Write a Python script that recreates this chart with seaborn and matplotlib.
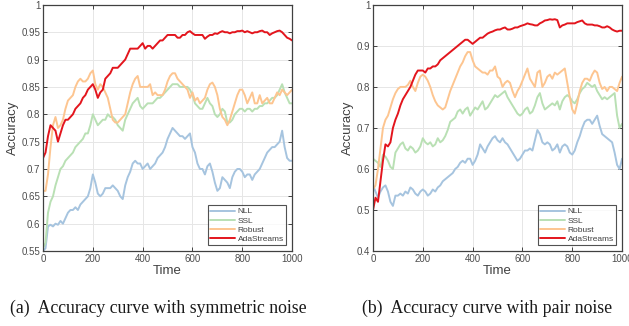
import numpy as np
import pandas as pd
import matplotlib
matplotlib.use('Agg')
import matplotlib.pyplot as plt
import seaborn as sns

# time grid (every 10 steps)
time_steps = list(range(0, 1001, 10))
methods = ['NLL', 'SSL', 'Robust', 'AdaStreams']

# (a) symmetric noise
sym_ada = [0.72, 0.73, 0.76, 0.78, 0.775, 0.77, 0.75, 0.765, 0.78, 0.79,
           0.79, 0.795, 0.80, 0.81, 0.815, 0.82, 0.83, 0.835, 0.845, 0.85,
           0.855, 0.845, 0.83, 0.84, 0.845, 0.865, 0.87, 0.875, 0.885, 0.885,
           0.885, 0.89, 0.895, 0.90, 0.91, 0.92, 0.92, 0.92, 0.92, 0.925,
           0.93, 0.92, 0.925, 0.925, 0.92, 0.925, 0.93, 0.935, 0.935, 0.94,
           0.945, 0.945, 0.945, 0.945, 0.94, 0.94, 0.945, 0.945, 0.95, 0.952,
           0.948, 0.945, 0.945, 0.945, 0.945, 0.938, 0.942, 0.945, 0.945, 0.948,
           0.947, 0.95, 0.952, 0.95, 0.95, 0.948, 0.95, 0.95, 0.952, 0.952,
           0.953, 0.95, 0.952, 0.95, 0.948, 0.95, 0.95, 0.952, 0.953, 0.95,
           0.95, 0.945, 0.948, 0.95, 0.952, 0.953, 0.95, 0.945, 0.94, 0.938,
           0.935]
sym_robust = [0.66, 0.66, 0.69, 0.74, 0.78, 0.795, 0.775, 0.78, 0.79, 0.81,
              0.825, 0.83, 0.835, 0.85, 0.86, 0.865, 0.86, 0.86, 0.865, 0.875,
              0.88, 0.855, 0.845, 0.855, 0.85, 0.84, 0.83, 0.81, 0.79, 0.785,
              0.785, 0.79, 0.795, 0.80, 0.82, 0.84, 0.855, 0.865, 0.87, 0.85,
              0.85, 0.85, 0.85, 0.855, 0.835, 0.84, 0.835, 0.835, 0.835, 0.845,
              0.86, 0.87, 0.875, 0.875, 0.865, 0.86, 0.855, 0.85, 0.845, 0.83,
              0.84, 0.825, 0.83, 0.82, 0.825, 0.83, 0.845, 0.855, 0.858, 0.85,
              0.835, 0.81, 0.795, 0.79, 0.78, 0.79, 0.805, 0.82, 0.835, 0.845,
              0.845, 0.835, 0.82, 0.83, 0.84, 0.82, 0.82, 0.835, 0.82, 0.825,
              0.83, 0.82, 0.82, 0.83, 0.84, 0.835, 0.845, 0.84, 0.835, 0.84,
              0.845]
sym_ssl = [0.555, 0.565, 0.62, 0.64, 0.65, 0.67, 0.685, 0.70, 0.705, 0.715,
           0.72, 0.725, 0.73, 0.74, 0.745, 0.75, 0.755, 0.765, 0.765, 0.78,
           0.80, 0.79, 0.78, 0.785, 0.79, 0.79, 0.80, 0.795, 0.795, 0.79,
           0.78, 0.775, 0.77, 0.79, 0.80, 0.81, 0.82, 0.825, 0.83, 0.815,
           0.81, 0.815, 0.82, 0.82, 0.82, 0.825, 0.83, 0.83, 0.835, 0.84,
           0.845, 0.85, 0.855, 0.855, 0.855, 0.85, 0.85, 0.85, 0.85, 0.845,
           0.835, 0.82, 0.815, 0.81, 0.81, 0.82, 0.83, 0.82, 0.815, 0.80,
           0.795, 0.80, 0.81, 0.805, 0.785, 0.785, 0.79, 0.80, 0.805, 0.81,
           0.81, 0.805, 0.81, 0.81, 0.805, 0.81, 0.81, 0.815, 0.815, 0.82,
           0.82, 0.825, 0.83, 0.83, 0.835, 0.845, 0.855, 0.84, 0.83, 0.82,
           0.82]
sym_nll = [0.55, 0.555, 0.595, 0.598, 0.595, 0.60, 0.598, 0.605, 0.60, 0.61,
           0.62, 0.625, 0.625, 0.63, 0.625, 0.635, 0.64, 0.645, 0.65, 0.665,
           0.69, 0.675, 0.655, 0.65, 0.655, 0.665, 0.665, 0.665, 0.67, 0.665,
           0.66, 0.65, 0.645, 0.67, 0.685, 0.695, 0.71, 0.715, 0.71, 0.71,
           0.70, 0.705, 0.71, 0.70, 0.705, 0.71, 0.72, 0.725, 0.73, 0.74,
           0.755, 0.765, 0.775, 0.77, 0.765, 0.76, 0.76, 0.755, 0.76, 0.765,
           0.74, 0.73, 0.71, 0.70, 0.70, 0.69, 0.705, 0.71, 0.695, 0.675,
           0.66, 0.665, 0.685, 0.68, 0.675, 0.665, 0.685, 0.695, 0.70, 0.70,
           0.695, 0.685, 0.69, 0.69, 0.68, 0.69, 0.695, 0.70, 0.71, 0.72,
           0.73, 0.735, 0.74, 0.74, 0.745, 0.75, 0.77, 0.74, 0.72, 0.715,
           0.715]

# (b) pair noise
pair_ada = [0.50, 0.53, 0.52, 0.57, 0.62, 0.66, 0.655, 0.665, 0.70, 0.72,
            0.735, 0.755, 0.77, 0.78, 0.79, 0.80, 0.815, 0.83, 0.84, 0.84,
            0.84, 0.835, 0.845, 0.845, 0.85, 0.85, 0.855, 0.865, 0.87, 0.875,
            0.88, 0.885, 0.89, 0.895, 0.90, 0.905, 0.91, 0.915, 0.915, 0.91,
            0.905, 0.91, 0.915, 0.92, 0.92, 0.925, 0.93, 0.933, 0.935, 0.938,
            0.94, 0.94, 0.943, 0.945, 0.94, 0.94, 0.942, 0.945, 0.945, 0.948,
            0.95, 0.952, 0.955, 0.953, 0.952, 0.95, 0.95, 0.955, 0.958, 0.962,
            0.963, 0.965, 0.964, 0.965, 0.963, 0.945, 0.95, 0.952, 0.955, 0.955,
            0.955, 0.955, 0.958, 0.96, 0.962, 0.955, 0.952, 0.952, 0.952, 0.95,
            0.95, 0.948, 0.945, 0.945, 0.948, 0.945, 0.94, 0.937, 0.935, 0.937,
            0.937]
pair_robust = [0.55, 0.56, 0.60, 0.65, 0.70, 0.72, 0.73, 0.75, 0.77, 0.785,
               0.795, 0.80, 0.80, 0.80, 0.805, 0.815, 0.80, 0.79, 0.81, 0.825,
               0.83, 0.825, 0.815, 0.80, 0.78, 0.765, 0.755, 0.75, 0.745, 0.75,
               0.77, 0.79, 0.805, 0.82, 0.835, 0.85, 0.86, 0.875, 0.885, 0.885,
               0.865, 0.85, 0.845, 0.84, 0.835, 0.835, 0.83, 0.84, 0.84, 0.85,
               0.825, 0.82, 0.80, 0.81, 0.815, 0.81, 0.79, 0.775, 0.79, 0.80,
               0.815, 0.83, 0.845, 0.82, 0.81, 0.80, 0.835, 0.84, 0.80, 0.81,
               0.825, 0.83, 0.82, 0.835, 0.83, 0.835, 0.84, 0.845, 0.81, 0.775,
               0.745, 0.735, 0.76, 0.79, 0.81, 0.82, 0.82, 0.815, 0.83, 0.84,
               0.835, 0.81, 0.795, 0.80, 0.79, 0.80, 0.80, 0.795, 0.79, 0.81,
               0.825]
pair_ssl = [0.625, 0.62, 0.615, 0.605, 0.635, 0.63, 0.62, 0.605, 0.60, 0.64,
            0.65, 0.66, 0.665, 0.65, 0.645, 0.655, 0.65, 0.64, 0.645, 0.655,
            0.675, 0.665, 0.66, 0.665, 0.655, 0.66, 0.675, 0.665, 0.67, 0.68,
            0.695, 0.715, 0.72, 0.725, 0.74, 0.745, 0.735, 0.745, 0.75, 0.73,
            0.74, 0.75, 0.745, 0.755, 0.765, 0.745, 0.75, 0.76, 0.77, 0.78,
            0.775, 0.78, 0.785, 0.79, 0.775, 0.765, 0.755, 0.745, 0.735, 0.73,
            0.735, 0.745, 0.75, 0.735, 0.74, 0.755, 0.775, 0.785, 0.76, 0.745,
            0.75, 0.755, 0.76, 0.755, 0.765, 0.745, 0.765, 0.775, 0.78, 0.775,
            0.765, 0.76, 0.77, 0.785, 0.795, 0.80, 0.81, 0.805, 0.80, 0.805,
            0.79, 0.78, 0.77, 0.775, 0.77, 0.775, 0.78, 0.785, 0.73, 0.70,
            0.71]
pair_nll = [0.56, 0.545, 0.53, 0.545, 0.555, 0.56, 0.545, 0.52, 0.51, 0.535,
            0.535, 0.54, 0.535, 0.545, 0.54, 0.555, 0.55, 0.54, 0.535, 0.545,
            0.55, 0.545, 0.535, 0.54, 0.55, 0.545, 0.555, 0.56, 0.57, 0.575,
            0.58, 0.585, 0.59, 0.60, 0.605, 0.615, 0.62, 0.615, 0.625, 0.625,
            0.61, 0.62, 0.635, 0.66, 0.65, 0.64, 0.655, 0.665, 0.675, 0.68,
            0.67, 0.665, 0.675, 0.665, 0.66, 0.65, 0.64, 0.63, 0.62, 0.625,
            0.635, 0.645, 0.645, 0.65, 0.645, 0.67, 0.695, 0.685, 0.665, 0.66,
            0.665, 0.66, 0.645, 0.65, 0.66, 0.64, 0.655, 0.66, 0.655, 0.64,
            0.635, 0.645, 0.665, 0.68, 0.70, 0.715, 0.72, 0.72, 0.71, 0.72,
            0.73, 0.705, 0.685, 0.68, 0.675, 0.67, 0.665, 0.64, 0.61, 0.60,
            0.625]

palette = {'NLL': '#a6c4df', 'SSL': '#b9e0b4', 'Robust': '#fdc590', 'AdaStreams': '#e3151d'}


def make_frame(nll, ssl, robust, ada):
    parts = []
    for name, vals in zip(methods, [nll, ssl, robust, ada]):
        parts.append(pd.DataFrame({'Time': time_steps, 'Accuracy': vals, 'method': name}))
    return pd.concat(parts, ignore_index=True)


sns.set_style('white')
plt.rcParams['font.family'] = ['Liberation Sans', 'DejaVu Sans']

fig = plt.figure(figsize=(6.29, 3.26), dpi=100)
ax1 = fig.add_axes([0.0684, 0.230, 0.396, 0.755])
ax2 = fig.add_axes([0.593, 0.230, 0.396, 0.755])

panels = [
    (ax1, make_frame(sym_nll, sym_ssl, sym_robust, sym_ada), (0.55, 1.0),
     [0.55, 0.6, 0.65, 0.7, 0.75, 0.8, 0.85, 0.9, 0.95, 1.0],
     ['0.55', '0.6', '0.65', '0.7', '0.75', '0.8', '0.85', '0.9', '0.95', '1']),
    (ax2, make_frame(pair_nll, pair_ssl, pair_robust, pair_ada), (0.4, 1.0),
     [0.4, 0.5, 0.6, 0.7, 0.8, 0.9, 1.0],
     ['0.4', '0.5', '0.6', '0.7', '0.8', '0.9', '1']),
]

for ax, df, ylim, yticks, ylabels in panels:
    sns.lineplot(data=df, x='Time', y='Accuracy', hue='method', palette=palette,
                 hue_order=methods, linewidth=1.4, ax=ax)
    ax.set_xlim(0, 1000)
    ax.set_ylim(*ylim)
    ax.set_xticks([0, 200, 400, 600, 800, 1000])
    ax.set_yticks(yticks)
    ax.set_yticklabels(ylabels)
    ax.grid(True, color='#e6e6e6', linewidth=0.7)
    ax.tick_params(direction='in', length=3, width=0.7, colors='#404040',
                   labelsize=7, labelcolor='#4d4d4d', top=True, right=True,
                   bottom=True, left=True, pad=2)
    for sp in ax.spines.values():
        sp.set_color('#404040')
        sp.set_linewidth(0.9)
    ax.set_xlabel('Time', fontsize=9.5, color='#404040', labelpad=1)
    ax.set_ylabel('Accuracy', fontsize=9.5, color='#404040', labelpad=2)
    leg = ax.legend(loc='lower right', fontsize=6, frameon=True, fancybox=False,
                    borderpad=0.3, labelspacing=0.15, handlelength=3.0,
                    handletextpad=0.3, borderaxespad=0.7)
    leg.get_frame().set_edgecolor('#262626')
    leg.get_frame().set_linewidth(0.8)
    for t in leg.get_texts():
        t.set_color('#404040')

fig.text(0.252, 0.040, '(a)  Accuracy curve with symmetric noise', fontsize=12.8,
         ha='center', family=['Liberation Serif', 'DejaVu Serif'], color='#1a1a1a')
fig.text(0.774, 0.040, '(b)  Accuracy curve with pair noise', fontsize=12.8,
         ha='center', family=['Liberation Serif', 'DejaVu Serif'], color='#1a1a1a')

fig.savefig('out.png', dpi=100)
